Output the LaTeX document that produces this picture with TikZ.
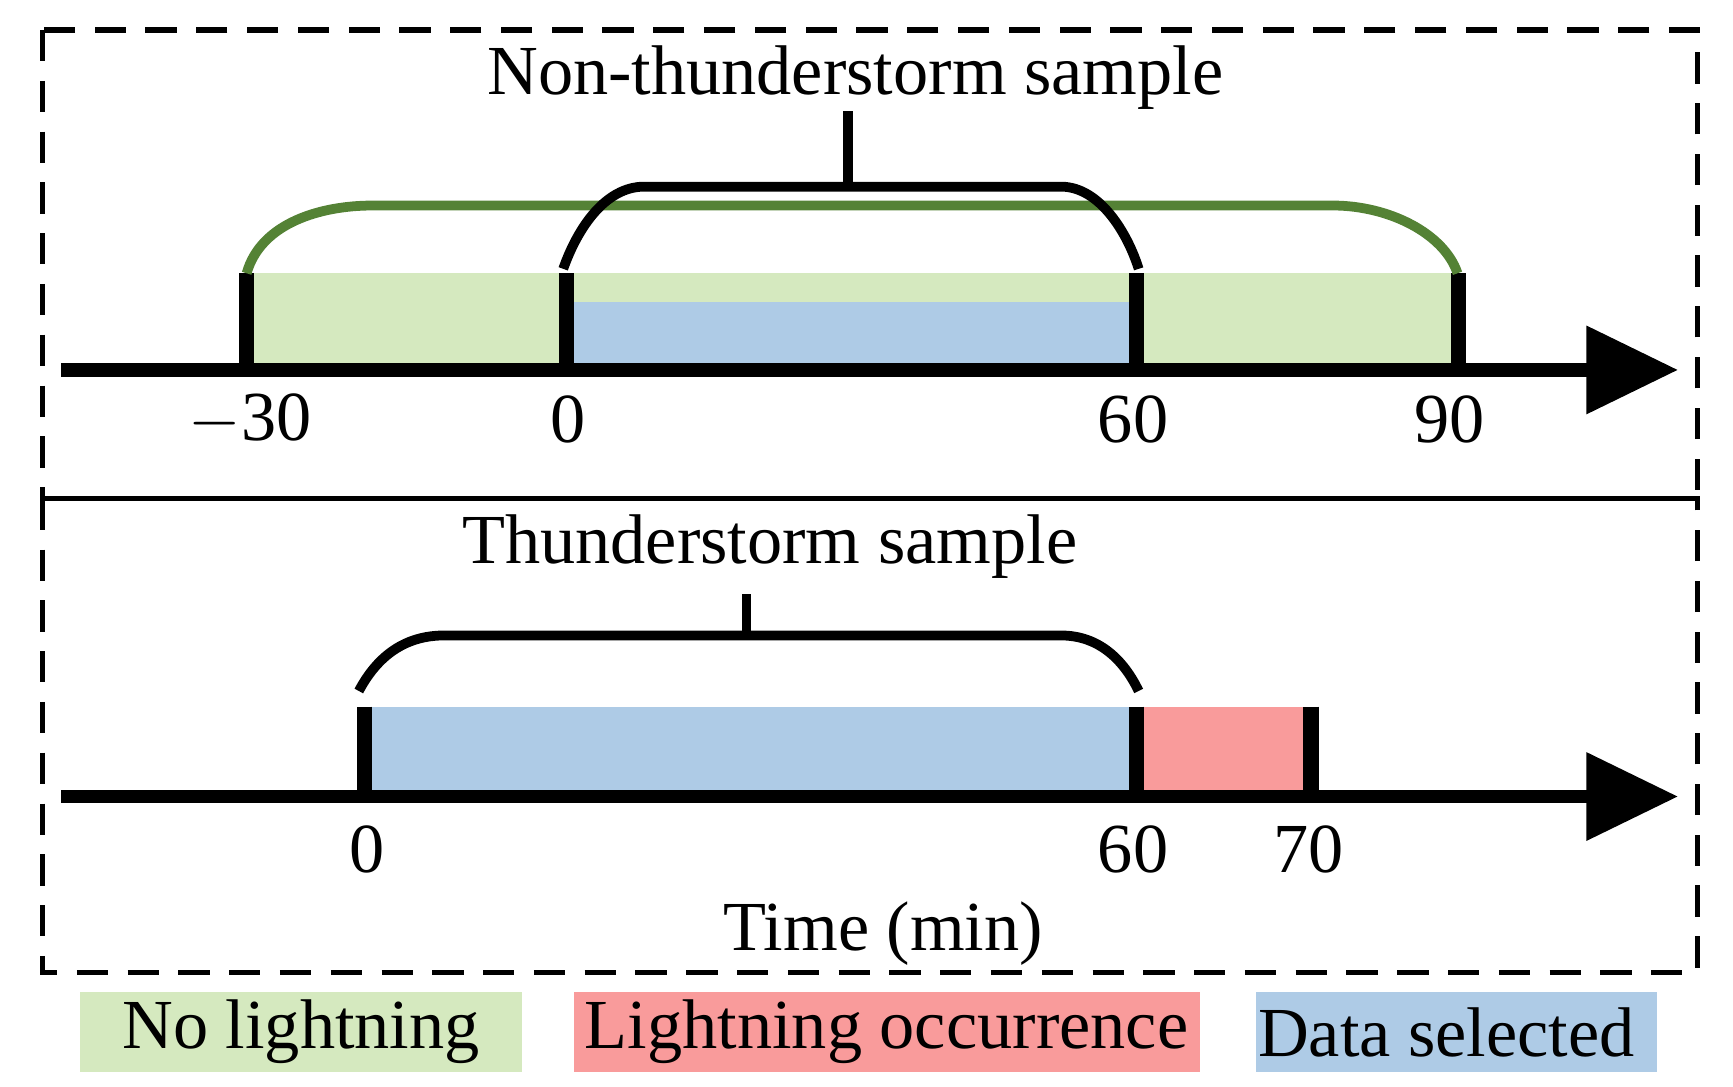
\documentclass[tikz,border=0pt]{standalone}
\usepackage{fontspec}
\setmainfont{Liberation Serif}
\definecolor{gfill}{HTML}{D5E9BF}
\definecolor{bfill}{HTML}{AECBE6}
\definecolor{rfill}{HTML}{F99B9B}
\definecolor{gline}{HTML}{548235}
\begin{document}
\begin{tikzpicture}[x={(0.01cm,0)},y={(0,-0.01cm)},
  txt/.style={font=\fontsize{18}{20}\selectfont, inner sep=0pt},
  tick/.style={line width=4pt},
  axis/.style={line width=3.5pt},
  brace/.style={line width=2.5pt},
  box/.style={dashed, line width=1.3pt, dash pattern=on 8pt off 5pt},
  head/.style={fill=black}]
\useasboundingbox (0,0) rectangle (1560,978);
% boxes
\draw[box] (38,27) rectangle (1528,449);
\draw[box] (38,449) rectangle (1528,875);
% top panel
\fill[gfill] (222,246) rectangle (1312,333);
\fill[bfill] (512,272) rectangle (1022,333);
\draw[axis] (55,333) -- (1440,333);
\fill[head] (1428,293) -- (1510,333) -- (1428,373) -- cycle;
\foreach \x in {222,510,1023,1313} \draw[tick] (\x,246) -- (\x,333);
\node[txt] (l1) at (225,378) {$-$30};
\node[txt] (l2) at (511,378) {0};
\node[txt] (l3) at (1020,378) {60};
\node[txt] (l4) at (1305,378) {90};
\draw[gline,brace] (222,246) .. controls (235,200) and (290,185) .. (335,185) -- (1200,185) .. controls (1250,185) and (1300,210) .. (1312,246);
\draw[brace] (507,242) .. controls (520,205) and (545,168) .. (580,168) -- (955,168) .. controls (990,168) and (1015,210) .. (1025,242);
\node[txt] (t1) at (770,70) {Non-thunderstorm sample};
\draw[brace] (763,168) -- (763,100);
% bottom panel
\fill[bfill] (328,636) rectangle (1023,717);
\fill[rfill] (1023,636) rectangle (1180,717);
\draw[axis] (55,717) -- (1440,717);
\fill[head] (1428,677) -- (1510,717) -- (1428,757) -- cycle;
\foreach \x in {328,1023,1180} \draw[tick] (\x,636) -- (\x,717);
\node[txt] (m1) at (330,765) {0};
\node[txt] (m2) at (1020,765) {60};
\node[txt] (m3) at (1178,765) {70};
\draw[brace] (323,622) .. controls (340,590) and (365,572) .. (400,572) -- (955,572) .. controls (990,572) and (1012,595) .. (1025,622);
\node[txt] (t2) at (693,492) {Thunderstorm sample};
\draw[brace] (672,572) -- (672,535);
\node[txt] (time) at (795,840) {Time (min)};
% legend
\fill[gfill] (72,893) rectangle (470,965);
\node[txt] (g) at (271,929) {No lightning};
\fill[rfill] (517,893) rectangle (1080,965);
\node[txt] (r) at (798,929) {Lightning occurrence};
\fill[bfill] (1131,893) rectangle (1492,965);
\node[txt] (b) at (1302,929) {Data selected};
\end{tikzpicture}
\end{document}
